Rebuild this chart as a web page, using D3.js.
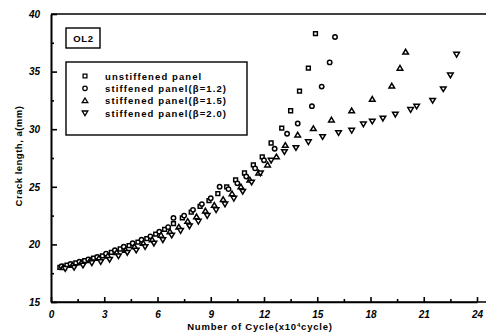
<!DOCTYPE html>
<html>
<head>
<meta charset="utf-8">
<script src="https://cdn.jsdelivr.net/npm/d3@7"></script>
<style>
  body { margin: 0; background: #fff; }
  svg { display: block; }
  text { font-family: "Liberation Sans", Arial, sans-serif; fill: #000; }
</style>
</head>
<body>
<svg id="chart" width="487" height="334"></svg>
<script>
// data (cycles in 10^4, crack length in mm)
const unstiffenedN = [0.5, 0.9, 1.4, 1.9, 2.4, 2.9, 3.4, 3.9, 4.4, 4.9, 5.4, 5.9, 6.4, 6.9, 7.4, 7.9, 8.4, 8.9, 9.4, 9.9, 10.4, 10.9, 11.4, 11.9, 12.4, 13.0, 13.5, 14.0, 14.5, 14.9];
const unstiffenedA = [18.0, 18.2, 18.4, 18.6, 18.8, 19.0, 19.3, 19.6, 19.9, 20.2, 20.5, 20.9, 21.3, 21.8, 22.3, 22.8, 23.3, 23.8, 24.4, 25.0, 25.6, 26.2, 26.9, 27.6, 28.8, 30.1, 31.6, 33.3, 35.3, 38.3];

const beta12N = [0.6, 1.1, 1.6, 2.1, 2.6, 3.1, 3.6, 4.1, 4.6, 5.1, 5.6, 6.1, 6.6, 6.9, 7.5, 8.0, 8.5, 9.0, 9.5, 10.0, 10.5, 11.0, 11.5, 12.0, 12.6, 13.3, 13.9, 14.7, 15.25, 15.7, 16.0];
const beta12A = [18.1, 18.3, 18.5, 18.7, 18.9, 19.2, 19.5, 19.8, 20.1, 20.4, 20.7, 21.1, 21.5, 22.3, 22.5, 23.0, 23.5, 24.0, 25.0, 24.8, 25.3, 25.9, 26.6, 27.3, 28.3, 29.6, 30.5, 32.0, 33.7, 35.8, 38.0];

const beta15N = [0.7, 1.2, 1.7, 2.2, 2.7, 3.2, 3.7, 4.2, 4.7, 5.2, 5.7, 6.2, 6.7, 7.2, 7.7, 8.2, 8.7, 9.2, 9.7, 10.2, 10.7, 11.2, 11.7, 12.2, 12.7, 13.2, 13.9, 14.78, 15.8, 16.94, 18.1, 19.2, 19.66, 19.98];
const beta15A = [18.0, 18.2, 18.4, 18.6, 18.8, 19.0, 19.3, 19.5, 19.8, 20.1, 20.4, 20.8, 21.1, 21.5, 22.0, 22.4, 22.9, 23.4, 23.9, 24.4, 25.0, 25.6, 26.2, 26.9, 27.6, 28.6, 29.5, 30.05, 30.8, 31.6, 32.6, 33.75, 35.3, 36.7];

const beta20N = [0.8, 1.3, 1.8, 2.3, 2.8, 3.3, 3.8, 4.3, 4.8, 5.3, 5.8, 6.3, 6.8, 7.3, 7.8, 8.3, 8.8, 9.3, 9.8, 10.3, 10.8, 11.3, 11.8, 12.4, 13.15, 13.8, 14.5, 15.3, 16.2, 16.94, 17.6, 18.1, 18.7, 19.4, 20.26, 20.6, 21.5, 22.1, 22.5, 22.85];
const beta20A = [17.9, 18.0, 18.2, 18.4, 18.5, 18.7, 19.0, 19.3, 19.5, 19.8, 20.1, 20.4, 20.8, 21.2, 21.6, 22.0, 22.5, 23.0, 23.5, 24.0, 24.6, 25.4, 26.2, 27.3, 28.05, 28.4, 28.9, 29.35, 29.7, 29.9, 30.45, 30.7, 30.95, 31.3, 31.7, 32.0, 32.5, 33.5, 34.7, 36.5];

const legendLabels = ["unstiffened panel", "stiffened panel(β=1.2)", "stiffened panel(β=1.5)", "stiffened panel(β=2.0)"];
const xTicks = [0, 3, 6, 9, 12, 15, 18, 21, 24];
const yTicks = [15, 20, 25, 30, 35, 40];

const series = [
  { n: unstiffenedN, a: unstiffenedA, shape: "square" },
  { n: beta12N, a: beta12A, shape: "circle" },
  { n: beta15N, a: beta15A, shape: "up" },
  { n: beta20N, a: beta20A, shape: "down" }
];

const svg = d3.select("#chart");
const x = d3.scaleLinear().domain([0, 24]).range([51, 477]);
const y = d3.scaleLinear().domain([15, 40]).range([302, 14]);

function symbolPath(shape) {
  if (shape === "square") return "M-1.9,-1.9H1.9V1.9H-1.9Z";
  if (shape === "circle") return d3.arc()({ innerRadius: 0, outerRadius: 2.2, startAngle: 0, endAngle: 2 * Math.PI });
  if (shape === "up") return "M0,-2.7L2.8,2H-2.8Z";
  return "M0,2.7L2.8,-2H-2.8Z";
}

// axes, ticks inside
const xAxis = svg.append("g").attr("transform", "translate(0,302)")
  .call(d3.axisBottom(x).tickValues(xTicks).tickSizeInner(-5).tickSizeOuter(0).tickPadding(9));
const xMinor = svg.append("g").attr("transform", "translate(0,302)")
  .call(d3.axisBottom(x).tickValues(d3.range(1.5, 24, 3)).tickSizeInner(-3).tickSizeOuter(0).tickFormat(""));
const yAxis = svg.append("g").attr("transform", "translate(51,0)")
  .call(d3.axisLeft(y).tickValues(yTicks).tickSizeInner(-6).tickSizeOuter(0).tickPadding(11));
const yMinor = svg.append("g").attr("transform", "translate(51,0)")
  .call(d3.axisLeft(y).tickValues(d3.range(17.5, 40, 5)).tickSizeInner(-3).tickSizeOuter(0).tickFormat(""));

[xAxis, xMinor, yAxis, yMinor].forEach(g => {
  g.selectAll("path, line").attr("stroke", "#000").attr("stroke-width", 1.6);
  g.selectAll("text").attr("font-size", 10).attr("font-weight", "bold").attr("font-style", "italic");
});
xAxis.select(".domain").attr("d", "M51,0H486");

// top frame line
svg.append("line").attr("x1", 51).attr("x2", 486).attr("y1", 14).attr("y2", 14)
  .attr("stroke", "#000").attr("stroke-width", 1.6);

// axis titles
svg.append("text").attr("x", 260).attr("y", 330).attr("text-anchor", "middle")
  .attr("font-size", 9.5).attr("font-weight", "bold").attr("letter-spacing", 0.8)
  .text("Number of Cycle(x10")
  .append("tspan").attr("font-size", 6).attr("dy", -3.5).text("4")
  .select(function() { return this.parentNode; })
  .append("tspan").attr("dy", 3.5).text("cycle)");

svg.append("text").attr("transform", "translate(22,156) rotate(-90)").attr("text-anchor", "middle")
  .attr("font-size", 9.5).attr("font-weight", "bold").attr("letter-spacing", 0.5)
  .text("Crack length, a(mm)");

// data points
series.forEach(s => {
  svg.append("g").selectAll("path")
    .data(d3.zip(s.n, s.a))
    .join("path")
    .attr("transform", d => `translate(${x(d[0])},${y(d[1])})`)
    .attr("d", symbolPath(s.shape))
    .attr("fill", "#fff").attr("stroke", "#000").attr("stroke-width", 1.5);
});

// OL2 label box
svg.append("rect").attr("x", 66).attr("y", 28).attr("width", 34).attr("height", 20)
  .attr("fill", "#fff").attr("stroke", "#000").attr("stroke-width", 1.4);
svg.append("text").attr("x", 83.5).attr("y", 41.5).attr("text-anchor", "middle")
  .attr("font-size", 9.5).attr("font-weight", "bold").attr("letter-spacing", 0.6).text("OL2");

// legend
const legend = svg.append("g");
legend.append("rect").attr("x", 66).attr("y", 62).attr("width", 181).attr("height", 73)
  .attr("fill", "#fff").attr("stroke", "#000").attr("stroke-width", 1.4);
const rowY = d3.scalePoint().domain(d3.range(4)).range([76, 113]);
series.forEach((s, i) => {
  legend.append("path").attr("transform", `translate(85,${rowY(i)})`)
    .attr("d", symbolPath(s.shape))
    .attr("fill", "#fff").attr("stroke", "#000").attr("stroke-width", 1.3);
  legend.append("text").attr("x", 105).attr("y", rowY(i) + 3.5)
    .attr("font-size", 9.5).attr("font-weight", "bold").attr("letter-spacing", 1.1)
    .text(legendLabels[i]);
});
</script>
</body>
</html>
